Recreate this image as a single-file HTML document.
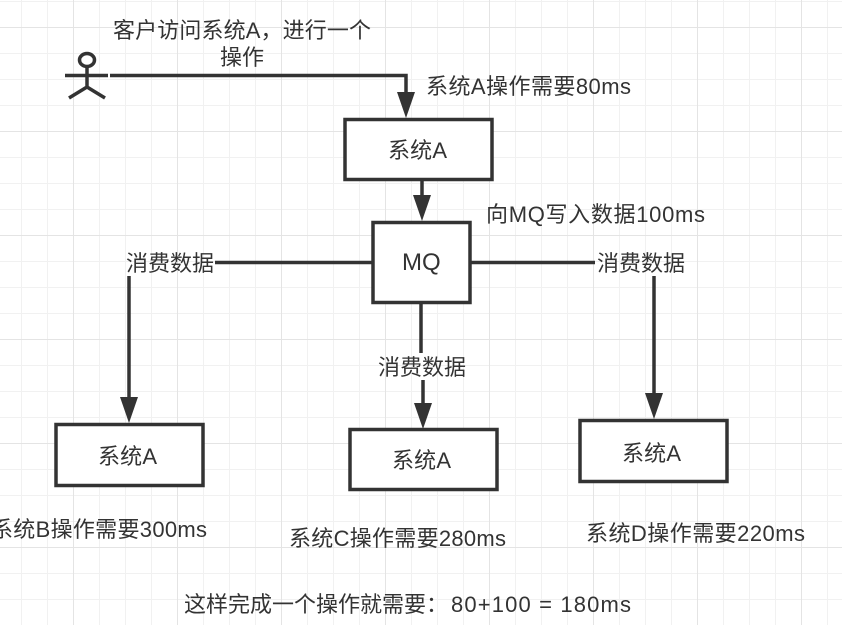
<!DOCTYPE html>
<html><head><meta charset="utf-8"><style>
html,body{margin:0;padding:0;background:#fff;width:842px;height:625px;overflow:hidden}
svg{display:block}
text{font-family:"Liberation Sans","Noto Sans CJK SC",sans-serif;font-size:22px;fill:#333}
</style></head><body>
<svg width="842" height="625" viewBox="0 0 842 625" xmlns="http://www.w3.org/2000/svg">
<defs>
<pattern id="g" width="26" height="26" patternUnits="userSpaceOnUse" x="21" y="1">
<path d="M0 .5H26M.5 0V26" stroke="#f1f1f1" stroke-width="1" fill="none"/>
</pattern>
<pattern id="m" width="104" height="104" patternUnits="userSpaceOnUse" x="73" y="131">
<path d="M0 .5H104M.5 0V104" stroke="#e4e4e4" stroke-width="1" fill="none"/>
</pattern>
</defs>
<rect width="842" height="625" fill="url(#g)"/>
<rect width="842" height="625" fill="url(#m)"/>

<g fill="none" stroke="#333" stroke-width="3.500">
<ellipse cx="87" cy="60" rx="7.500" ry="6.500"/>
<path d="M87 67V87M65 75.500H108M87 87L69 98M87 87L105 98"/>
<path d="M110 75.500H406V95"/>
<path d="M422 180V195"/>
<path d="M373 262.500H215M129 276V398"/>
<path d="M471 262.500H595M654 276V394"/>
<path d="M421 303V353M423 380V406"/>
<rect x="345" y="119.500" width="147" height="60" fill="#fff"/>
<rect x="373" y="222.500" width="97" height="80" fill="#fff"/>
<rect x="56" y="424.500" width="147" height="61" fill="#fff"/>
<rect x="350" y="429.500" width="147" height="60" fill="#fff"/>
<rect x="580" y="420.500" width="147" height="61" fill="#fff"/>
</g>
<g fill="#333">
<polygon points="397,92 415,92 406,118"/>
<polygon points="413,195 431,195 422,221"/>
<polygon points="120,397 138,397 129,423"/>
<polygon points="414,403 432,403 423,429"/>
<polygon points="645,393 663,393 654,419"/>
</g>

<text x="113" y="38" textLength="258">客户访问系统A，进行一个</text>
<text x="220" y="65">操作</text>
<text x="426" y="94" textLength="205">系统A操作需要80ms</text>
<text x="388" y="158" textLength="59">系统A</text>
<text x="486" y="222" textLength="219">向MQ写入数据100ms</text>
<text x="402" y="270" style="font-size:24px">MQ</text>
<text x="126" y="271">消费数据</text>
<text x="597" y="271">消费数据</text>
<text x="378" y="375">消费数据</text>
<text x="98" y="464" textLength="59">系统A</text>
<text x="392" y="468" textLength="59">系统A</text>
<text x="622" y="461" textLength="59">系统A</text>
<text x="-9" y="537" textLength="216">系统B操作需要300ms</text>
<text x="289" y="546" textLength="217">系统C操作需要280ms</text>
<text x="586" y="541" textLength="219">系统D操作需要220ms</text>
<text x="184" y="612">这样完成一个操作就需要：</text>
<text x="451" y="612" textLength="180">80+100 = 180ms</text>
</svg>
</body></html>
